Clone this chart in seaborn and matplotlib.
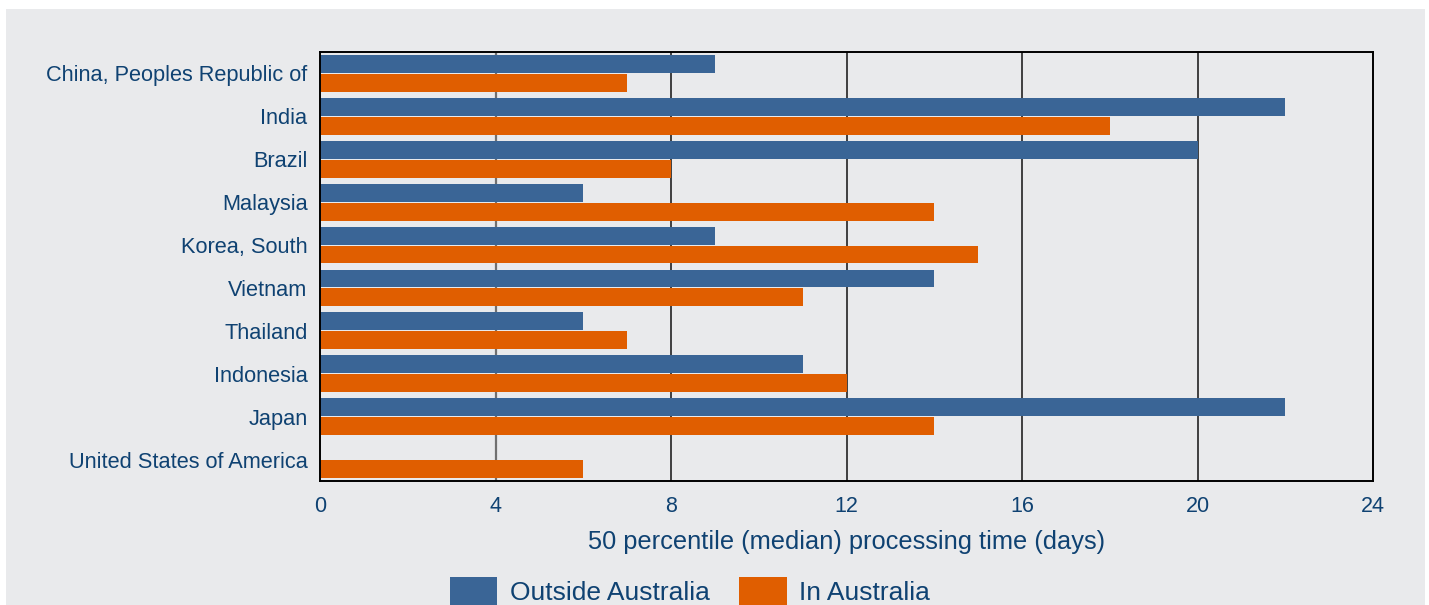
import matplotlib
matplotlib.use("Agg")
import matplotlib.pyplot as plt
import matplotlib.patches as mpatches
import seaborn as sns
import pandas as pd
import numpy as np

countries = ["China, Peoples Republic of", "India", "Brazil", "Malaysia", "Korea, South",
             "Vietnam", "Thailand", "Indonesia", "Japan", "United States of America"]
outside_australia = [9, 22, 20, 6, 9, 14, 6, 11, 22, 0]
in_australia = [7, 18, 8, 14, 15, 11, 7, 12, 14, 6]
series_names = ["Outside Australia", "In Australia"]
x_ticks = [0, 4, 8, 12, 16, 20, 24]
x_label = "50 percentile (median) processing time (days)"

df = pd.DataFrame({
    "country": countries * 2,
    "value": outside_australia + in_australia,
    "series": [series_names[0]] * len(countries) + [series_names[1]] * len(countries),
})

BLUE = "#3a6596"
ORANGE = "#e05e00"
BG = "#e9eaec"
TXT = "#0f4272"

sns.set_theme(style="white")
plt.rcParams["font.family"] = ["Liberation Sans", "DejaVu Sans"]

fig = plt.figure(figsize=(14.29, 6.05), dpi=100, facecolor="white")
bgrect = mpatches.Rectangle((6 / 1429, 0), 1419 / 1429, 596 / 605,
                            transform=fig.transFigure, facecolor=BG,
                            edgecolor="none", zorder=-10)
fig.patches.append(bgrect)
ax = fig.add_axes([320 / 1429, 1 - 481 / 605, (1373 - 320) / 1429, (481 - 52) / 605])
ax.set_facecolor(BG)

sns.barplot(data=df, y="country", x="value", hue="series", orient="h",
            palette=[BLUE, ORANGE], width=0.88, gap=0.05, ax=ax, legend=False,
            saturation=1, errorbar=None, linewidth=0, edgecolor="none")

ax.set_xlim(0, 24)
ax.set_xticks(x_ticks)
ax.set_xticklabels([str(t) for t in x_ticks], color=TXT, fontsize=15.5)
ax.set_ylim(len(countries) - 0.5, -0.5)
ax.set_yticks(range(len(countries)))
ax.set_yticklabels(countries, color=TXT, fontsize=15.7)
ax.set_yticks(np.arange(-0.5, len(countries), 1), minor=True)
ax.tick_params(axis="y", which="major", length=0, pad=9)
ax.tick_params(axis="y", which="minor", length=3, direction="in", color="black", width=1)
ax.tick_params(axis="x", which="major", length=0, pad=11)
ax.set_ylabel("")
ax.set_xlabel(x_label, color=TXT, fontsize=18.3, labelpad=9)

for t in x_ticks[1:-1]:
    if t == 4:
        ax.axvline(t, color="#707070", linewidth=1.6, zorder=0.5)
    else:
        ax.axvline(t, color="#111111", linewidth=1.1, zorder=0.5)
for s in ax.spines.values():
    s.set_visible(True)
    s.set_color("black")
    s.set_linewidth(1.4)

handles = [mpatches.Patch(facecolor=BLUE, edgecolor="none", label=series_names[0]),
           mpatches.Patch(facecolor=ORANGE, edgecolor="none", label=series_names[1])]
leg = fig.legend(handles=handles, loc="center", bbox_to_anchor=(690 / 1429, 1 - 591 / 605),
                 ncol=2, frameon=False, fontsize=19, handlelength=1.8, handleheight=1.3,
                 columnspacing=1.1, handletextpad=0.48, borderpad=0.2)
for t in leg.get_texts():
    t.set_color(TXT)

fig.savefig("out.png", dpi=100, facecolor="white")
